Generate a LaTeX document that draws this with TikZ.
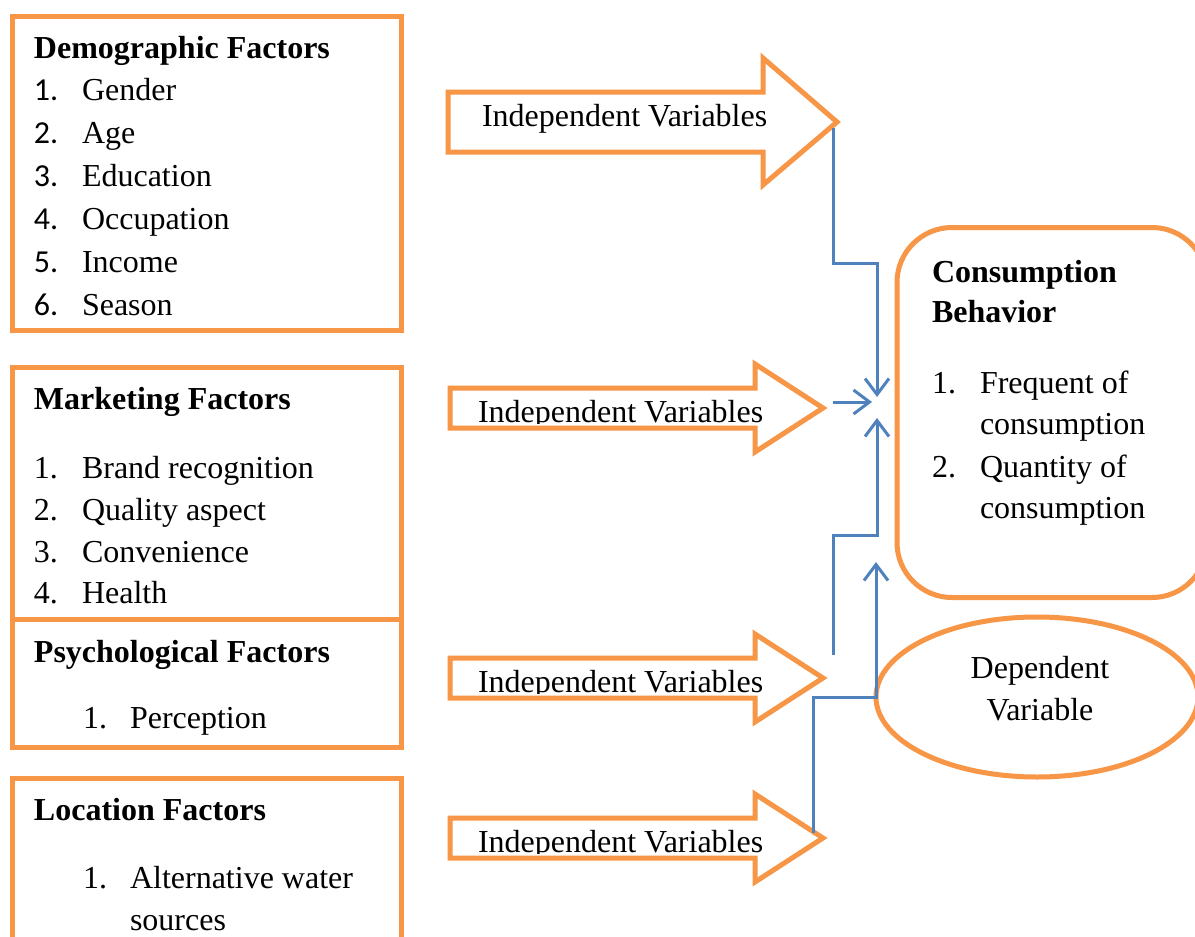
\documentclass[tikz,border=0pt]{standalone}
\usepackage{fontspec}
\setmainfont{Liberation Serif}
\newfontfamily\numfont{Carlito}
\usetikzlibrary{arrows.meta,shapes.geometric}
\definecolor{orng}{HTML}{F79646}
\definecolor{blu}{HTML}{4F81BD}
\begin{document}
\begin{tikzpicture}[x=1pt,y=-1pt,
  box/.style={draw=orng,line width=5pt,inner sep=0pt,outer sep=0pt,anchor=north west},
  txt/.style={anchor=base west,inner sep=0pt,outer sep=0pt,font=\fontsize{32}{42}\selectfont},
  btxt/.style={anchor=base west,inner sep=0pt,outer sep=0pt,font=\fontsize{32}{42}\selectfont\bfseries},
  ctxt/.style={anchor=base,inner sep=0pt,outer sep=0pt,font=\fontsize{32}{42}\selectfont},
  ntxt/.style={anchor=base west,inner sep=0pt,outer sep=0pt,font=\fontsize{32}{42}\selectfont\numfont},
  conn/.style={draw=blu,line width=3pt},
  tipped/.style={-{Straight Barb[length=16pt,width=24pt]}},
  blockarrow/.style={draw=orng,line width=5pt,fill=white,line join=miter,miter limit=10}]
\clip (0,0) rectangle (1195,937);
\fill[white] (0,0) rectangle (1195,937);

% ---------- left boxes ----------
\node[box,minimum width=389pt,minimum height=314pt] (demo) at (12,16.5) {};
\node[box,minimum width=389pt,minimum height=252pt] (mkt) at (12,367.5) {};
\node[box,minimum width=389pt,minimum height=128pt] (psy) at (12,619.5) {};
\node[box,minimum width=389pt,minimum height=220pt] (loc) at (12,778) {};

\node[btxt] (demoT) at (34,58) {Demographic Factors};
\foreach \n/\t/\y in {1/Gender/100,2/Age/143,3/Education/186,4/Occupation/229,5/Income/272,6/Season/315}{
  \node[ntxt] (demoN\n) at (34,\y) {\n.};
  \node[txt] (demoI\n) at (82,\y) {\t};
}

\node[btxt] (mktT) at (34,409) {Marketing Factors};
\foreach \n/\t/\y in {1/Brand recognition/478,2/Quality aspect/520,3/Convenience/562,4/Health/603}{
  \node[txt] (mktN\n) at (34,\y) {\n.};
  \node[txt] (mktI\n) at (82,\y) {\t};
}

\node[btxt] (psyT) at (34,662) {Psychological Factors};
\node[txt] (psyN1) at (83,728) {1.};
\node[txt] (psyI1) at (130,728) {Perception};

\node[btxt] (locT) at (34,820) {Location Factors};
\node[txt] (locN1) at (83,888) {1.};
\node[txt] (locI1) at (130,888) {Alternative water};
\node[txt] (locI1b) at (130,930) {sources};

% ---------- block arrows ----------
\draw[blockarrow] (448,92) -- (763,92) -- (763,58) -- (837,122) -- (763,185) -- (763,152) -- (448,152) -- cycle;
\coordinate (t1) at (837,122);
\node[txt] (iv1) at (482,126) {Independent Variables};

\draw[blockarrow] (450,388) -- (755,388) -- (755,364) -- (823,408) -- (755,452) -- (755,428) -- (450,428) -- cycle;
\coordinate (t2) at (823,408);
\begin{scope}
\clip (450,388) rectangle (823,423);
\node[txt] (iv2) at (478,422) {Independent Variables};
\end{scope}

\draw[blockarrow] (450,658) -- (755,658) -- (755,634) -- (823,678) -- (755,722) -- (755,698) -- (450,698) -- cycle;
\coordinate (t3) at (823,678);
\begin{scope}
\clip (450,658) rectangle (823,693);
\node[txt] (iv3) at (478,692) {Independent Variables};
\end{scope}

\draw[blockarrow] (450,818) -- (755,818) -- (755,794) -- (823,838) -- (755,882) -- (755,858) -- (450,858) -- cycle;
\coordinate (t4) at (823,838);
\begin{scope}
\clip (450,818) rectangle (823,853);
\node[txt] (iv4) at (478,852) {Independent Variables};
\end{scope}

% ---------- right side ----------
\node[box,rounded corners=55pt,minimum width=310pt,minimum height=370pt] (cons) at (897,227.5) {};
\node[btxt] (consT1) at (932,282) {Consumption};
\node[btxt] (consT2) at (932,322) {Behavior};
\node[txt] (consN1) at (932,393) {1.};
\node[txt] (consI1) at (980,393) {Frequent of};
\node[txt] (consI1b) at (980,434) {consumption};
\node[txt] (consN2) at (932,477) {2.};
\node[txt] (consI2) at (980,477) {Quantity of};
\node[txt] (consI2b) at (980,518) {consumption};

\node[draw=orng,line width=5pt,ellipse,inner sep=0pt,outer sep=0pt,minimum width=322pt,minimum height=160pt] (dep) at (1037,697) {};
\node[ctxt] (dep1) at (1040,678) {Dependent};
\node[ctxt] (dep2) at (1040,720) {Variable};

% ---------- connectors ----------
\coordinate (s1) at (833,128);
\coordinate (e1) at (877,397);
\draw[conn,tipped] (s1) -- ++(0,135) -| (e1);

\coordinate (s2) at (833,402);
\coordinate (e2) at (872,402);
\draw[conn,tipped] (s2) -- (e2);

\coordinate (s3) at (833,655);
\coordinate (e3) at (877,418);
\draw[conn,tipped] (s3) -- ++(0,-120) -| (e3);

\coordinate (s4) at (813,833);
\coordinate (e4) at (dep.west |- 0,562);
\draw[conn,tipped] (s4) |- (dep.west) -- (e4);
\end{tikzpicture}
\end{document}
